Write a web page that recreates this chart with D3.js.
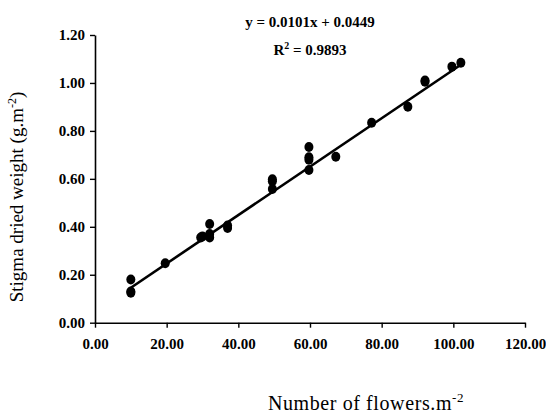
<!DOCTYPE html>
<html><head><meta charset="utf-8">
<script src="https://cdn.jsdelivr.net/npm/d3@7"></script>
<style>body{margin:0;background:#fff}svg{display:block}</style>
</head><body>
<svg id="c" width="546" height="418"></svg>
<script>
const xTicks = [0,20,40,60,80,100,120];
const yTicks = [0,0.2,0.4,0.6,0.8,1.0,1.2];
const flowers = [10,10,10,19.6,29.5,30,32,32,32,37,37,49.5,49.5,49.5,59.7,59.7,59.7,59.7,67.2,77.2,87.3,92.1,92.1,99.6,102.1];
const weight  = [0.18,0.13,0.125,0.248,0.355,0.36,0.412,0.37,0.355,0.405,0.395,0.598,0.59,0.558,0.733,0.69,0.68,0.637,0.692,0.834,0.901,1.005,1.01,1.068,1.084];
const slope = 0.0101, intercept = 0.0449;
const fitRange = [10,102.1];
const eqText = "y = 0.0101x + 0.0449";
const r2Text = "0.9893";

const svg = d3.select("#c");
const x = d3.scaleLinear().domain([0,120]).range([95,525]);
const y = d3.scaleLinear().domain([0,1.2]).range([322.7,35]);
const serif = "'Liberation Serif','Times New Roman',serif";

const xa = svg.append("g").attr("transform","translate(0,322.7)")
  .call(d3.axisBottom(x).tickValues(xTicks).tickFormat(d3.format(".2f")).tickSize(5).tickSizeOuter(0));
const ya = svg.append("g").attr("transform","translate(95,0)")
  .call(d3.axisLeft(y).tickValues(yTicks).tickFormat(d3.format(".2f")).tickSize(5).tickSizeOuter(0));
[xa,ya].forEach(g=>{
  g.select(".domain").attr("stroke","#000").attr("stroke-width",1.6);
  g.selectAll(".tick line").attr("stroke","#000").attr("stroke-width",1.4);
  g.selectAll(".tick text").attr("font-family",serif).attr("font-weight","bold")
   .attr("font-size",15).attr("fill","#000");
});
xa.selectAll(".tick text").attr("y",16);
ya.selectAll(".tick text").attr("x",-10);

// fit line
svg.append("line")
  .attr("x1",x(fitRange[0])).attr("y1",y(slope*fitRange[0]+intercept))
  .attr("x2",x(fitRange[1])).attr("y2",y(slope*fitRange[1]+intercept))
  .attr("stroke","#000").attr("stroke-width",2.6);

// points
svg.append("g").selectAll("ellipse").data(flowers.map((f,i)=>[f,weight[i]])).join("ellipse")
  .attr("cx",d=>x(d[0])).attr("cy",d=>y(d[1])).attr("rx",4.5).attr("ry",5).attr("fill","#000");

// equation
svg.append("text").attr("x",310).attr("y",27).attr("text-anchor","middle")
  .attr("font-family",serif).attr("font-weight","bold").attr("font-size",15).text(eqText);
const r2 = svg.append("text").attr("x",310).attr("y",55).attr("text-anchor","middle")
  .attr("font-family",serif).attr("font-weight","bold").attr("font-size",15);
r2.append("tspan").text("R");
r2.append("tspan").attr("dy",-6).attr("font-size",10).text("2");
r2.append("tspan").attr("dy",6).text(" = " + r2Text);

// axis titles
const xt = svg.append("text").attr("x",366).attr("y",410).attr("text-anchor","middle")
  .attr("font-family",serif).attr("font-size",20).attr("letter-spacing",0.6);
xt.append("tspan").text("Number of flowers.m");
xt.append("tspan").attr("dy",-8).attr("font-size",13).text("-2");

const yt = svg.append("text").attr("transform","translate(23,197) rotate(-90)").attr("text-anchor","middle")
  .attr("font-family",serif).attr("font-size",19);
yt.append("tspan").text("Stigma dried weight (g.m");
yt.append("tspan").attr("dy",-7).attr("font-size",12).text("-2");
yt.append("tspan").attr("dy",7).text(")");
</script>
</body></html>
